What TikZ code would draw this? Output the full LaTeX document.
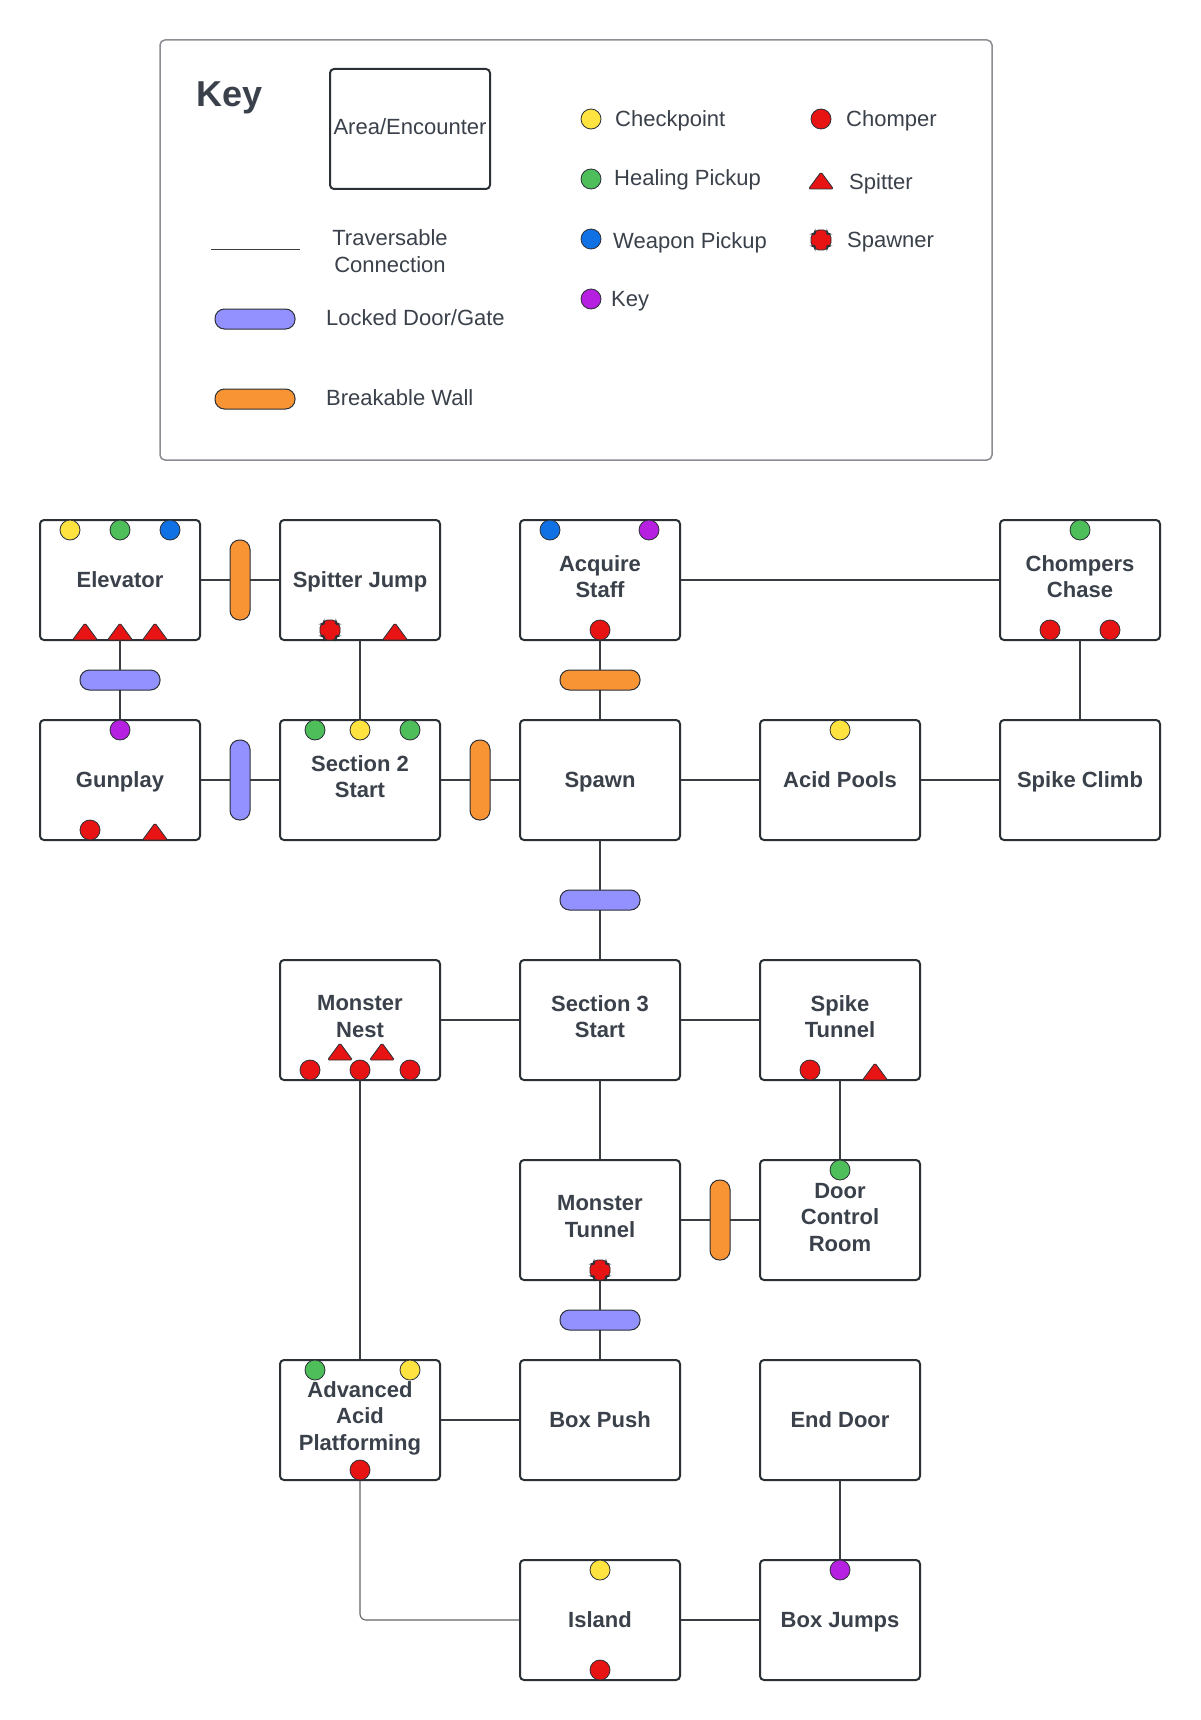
\documentclass[tikz,border=0pt]{standalone}
\usepackage{fontspec}
\setmainfont{Liberation Sans}
\definecolor{txt}{HTML}{3A414A}
\definecolor{boxc}{HTML}{2B2F36}
\definecolor{linec}{HTML}{3A3D42}
\definecolor{keyc}{HTML}{8A8D92}
\definecolor{cyellow}{HTML}{FFE340}
\definecolor{cgreen}{HTML}{4DBE5A}
\definecolor{cblue}{HTML}{1071E5}
\definecolor{cpurple}{HTML}{B620E0}
\definecolor{cred}{HTML}{E81313}
\definecolor{lockc}{HTML}{9391FF}
\definecolor{orangec}{HTML}{F99434}
\begin{document}
\begin{tikzpicture}[x=1pt,y=-1pt,
  area/.style={draw=boxc, line width=2pt, rounded corners=4pt, fill=white,
    minimum width=160pt, minimum height=120pt, inner sep=0pt},
  lbl/.style={align=center, text=txt,
    font=\fontsize{22}{26.4}\selectfont\bfseries, inner sep=0pt},
  lblone/.style={lbl, anchor=base, yshift=-7.5pt},
  conn/.style={draw=linec, line width=1.1pt},
  dot/.style={circle, draw=boxc, line width=0.8pt, minimum size=20pt, inner sep=0pt},
  pillh/.style={draw=boxc, line width=1pt, rounded corners=9.5pt,
    minimum width=80pt, minimum height=20pt, inner sep=0pt},
  pillv/.style={draw=boxc, line width=1pt, rounded corners=9.5pt,
    minimum width=20pt, minimum height=80pt, inner sep=0pt},
  keytext/.style={text=txt, font=\fontsize{22}{26.4}\selectfont, inner sep=0pt},
  spitter/.pic={\filldraw[fill=cred, draw=boxc, line width=0.8pt, rounded corners=1.5pt]
    (-12.5,0) -- (0,-17) -- (12.5,0) -- cycle;},
  spawner/.pic={\filldraw[fill=cred, draw=boxc, line width=0.8pt, rounded corners=3.5pt]
    (-6,-10) -- (6,-10) -- (6,-6) -- (10,-6) -- (10,6) -- (6,6) -- (6,10)
    -- (-6,10) -- (-6,6) -- (-10,6) -- (-10,-6) -- (-6,-6) -- cycle;}
]
\useasboundingbox[fill=white] (0,0) rectangle (1200,1720);

% ---------- Key ----------
\draw[draw=keyc, line width=1.5pt, rounded corners=5pt] (160,40) rectangle (992,460);
\node[anchor=base west, text=txt, font=\fontsize{36}{40}\selectfont\bfseries, inner sep=0pt] (keytitle) at (196,107) {Key};
\node[draw=boxc, line width=2pt, rounded corners=4pt, minimum width=160pt, minimum height=120pt, inner sep=0pt] (keyarea) at (410,129) {};
\node[keytext] (keyarealbl) at (410,127) {Area/Encounter};
\coordinate (tl1) at (211,250);
\coordinate (tl2) at (300,250);
\draw[line width=1pt, draw=linec] (tl1) -- (tl2);
\node[keytext, align=center] (travlbl) at (390,251) {Traversable\\Connection};
\node[pillh, fill=lockc] (keylock) at (255,319) {};
\node[keytext, anchor=west] (locklbl) at (326,318) {Locked Door/Gate};
\node[pillh, fill=orangec] (keywall) at (255,399) {};
\node[keytext, anchor=west] (walllbl) at (326,398) {Breakable Wall};

\node[dot, fill=cyellow] (kc1) at (591,119) {};
\node[keytext, anchor=west] (kt1) at (615,121) {Checkpoint};
\node[dot, fill=cgreen] (kc2) at (591,179) {};
\node[keytext, anchor=west] (kt2) at (614,179.5) {Healing Pickup};
\node[dot, fill=cblue] (kc3) at (591,239) {};
\node[keytext, anchor=west] (kt3) at (613,242.5) {Weapon Pickup};
\node[dot, fill=cpurple] (kc4) at (591,299) {};
\node[keytext, anchor=west] (kt4) at (611,301) {Key};
\node[dot, fill=cred] (kc5) at (821,119) {};
\node[keytext, anchor=west] (kt5) at (846,121) {Chomper};
\pic at (821,189) {spitter};
\node[keytext, anchor=west] (kt6) at (849,184) {Spitter};
\pic at (821,240) {spawner};
\node[keytext, anchor=west] (kt7) at (847,242.5) {Spawner};

% ---------- Areas ----------
\node[area] (elev) at (120,580) {};
\node[area] (spj) at (360,580) {};
\node[area] (acq) at (600,580) {};
\node[area] (chc) at (1080,580) {};
\node[area] (gun) at (120,780) {};
\node[area] (s2) at (360,780) {};
\node[area] (spawn) at (600,780) {};
\node[area] (acid) at (840,780) {};
\node[area] (spc) at (1080,780) {};
\node[area] (nest) at (360,1020) {};
\node[area] (s3) at (600,1020) {};
\node[area] (spt) at (840,1020) {};
\node[area] (mtun) at (600,1220) {};
\node[area] (dcr) at (840,1220) {};
\node[area] (aap) at (360,1420) {};
\node[area] (push) at (600,1420) {};
\node[area] (enddoor) at (840,1420) {};
\node[area] (island) at (600,1620) {};
\node[area] (bjump) at (840,1620) {};

\node[lblone] (elevL) at (elev) {Elevator};
\node[lblone] (spjL) at (spj) {Spitter Jump};
\node[lbl, yshift=3.5pt] (acqL) at (acq) {Acquire\\Staff};
\node[lbl, yshift=3.5pt] (chcL) at (chc) {Chompers\\Chase};
\node[lblone] (gunL) at (gun) {Gunplay};
\node[lbl, yshift=3.5pt] (s2L) at (s2) {Section 2\\Start};
\node[lblone] (spawnL) at (spawn) {Spawn};
\node[lblone] (acidL) at (acid) {Acid Pools};
\node[lblone] (spcL) at (spc) {Spike Climb};
\node[lbl, yshift=3.5pt] (nestL) at (nest) {Monster\\Nest};
\node[lbl, yshift=3.5pt] (s3L) at (s3) {Section 3\\Start};
\node[lbl, yshift=3.5pt] (sptL) at (spt) {Spike\\Tunnel};
\node[lbl, yshift=3.5pt] (mtunL) at (mtun) {Monster\\Tunnel};
\node[lbl, yshift=2.5pt] (dcrL) at (dcr) {Door\\Control\\Room};
\node[lbl, yshift=2pt] (aapL) at (aap) {Advanced\\Acid\\Platforming};
\node[lblone] (pushL) at (push) {Box Push};
\node[lblone] (enddoorL) at (enddoor) {End Door};
\node[lblone] (islandL) at (island) {Island};
\node[lblone] (bjumpL) at (bjump) {Box Jumps};

% ---------- Connectors ----------
\draw[conn] (elev) -- (spj);
\draw[conn] (elev) -- (gun);
\draw[conn] (gun) -- (s2);
\draw[conn] (spj) -- (s2);
\draw[conn] (s2) -- (spawn);
\draw[conn] (acq) -- (spawn);
\draw[conn] (acq) -- (chc);
\draw[conn] (chc) -- (spc);
\draw[conn] (spawn) -- (acid);
\draw[conn] (acid) -- (spc);
\draw[conn] (spawn) -- (s3);
\draw[conn] (nest) -- (s3);
\draw[conn] (s3) -- (spt);
\draw[conn] (s3) -- (mtun);
\draw[conn] (spt) -- (dcr);
\draw[conn] (mtun) -- (dcr);
\draw[conn] (mtun) -- (push);
\draw[conn] (nest) -- (aap);
\draw[conn] (aap) -- (push);
\draw[conn, draw=linec!80, rounded corners=6pt] (aap.south) |- (island.west);
\draw[conn] (island) -- (bjump);
\draw[conn] (enddoor) -- (bjump);

% ---------- Gates / walls ----------
\node[pillv, fill=orangec] (w1) at (240,580) {};
\node[pillh, fill=lockc] (g1) at (120,680) {};
\node[pillv, fill=lockc] (g2) at (240,780) {};
\node[pillv, fill=orangec] (w2) at (480,780) {};
\node[pillh, fill=orangec] (w3) at (600,680) {};
\node[pillh, fill=lockc] (g3) at (600,900) {};
\node[pillv, fill=orangec] (w4) at (720,1220) {};
\node[pillh, fill=lockc] (g4) at (600,1320) {};

% ---------- Markers ----------
% Elevator
\node[dot, fill=cyellow] (el1) at (70,530) {};
\node[dot, fill=cgreen] (el2) at (120,530) {};
\node[dot, fill=cblue] (el3) at (170,530) {};
\pic at (85,640) {spitter};
\pic at (120,640) {spitter};
\pic at (155,640) {spitter};
% Spitter Jump
\pic at (330,630) {spawner};
\pic at (395,640) {spitter};
% Acquire Staff
\node[dot, fill=cblue] (aq1) at (550,530) {};
\node[dot, fill=cpurple] (aq2) at (649,530) {};
\node[dot, fill=cred] (aq3) at (600,630) {};
% Chompers Chase
\node[dot, fill=cgreen] (cc1) at (1080,530) {};
\node[dot, fill=cred] (cc2) at (1050,630) {};
\node[dot, fill=cred] (cc3) at (1110,630) {};
% Gunplay
\node[dot, fill=cpurple] (gp1) at (120,730) {};
\node[dot, fill=cred] (gp2) at (90,830) {};
\pic at (155,840) {spitter};
% Section 2 Start
\node[dot, fill=cgreen] (sa1) at (315,730) {};
\node[dot, fill=cyellow] (sa2) at (360,730) {};
\node[dot, fill=cgreen] (sa3) at (410,730) {};
% Acid Pools
\node[dot, fill=cyellow] (ap1) at (840,730) {};
% Monster Nest
\pic at (340,1060) {spitter};
\pic at (382,1060) {spitter};
\node[dot, fill=cred] (mn1) at (310,1070) {};
\node[dot, fill=cred] (mn2) at (360,1070) {};
\node[dot, fill=cred] (mn3) at (410,1070) {};
% Spike Tunnel
\node[dot, fill=cred] (st1) at (810,1070) {};
\pic at (875,1080) {spitter};
% Door Control Room
\node[dot, fill=cgreen] (dc1) at (840,1170) {};
% Monster Tunnel
\pic at (600,1270) {spawner};
% Advanced Acid Platforming
\node[dot, fill=cgreen] (aa1) at (315,1370) {};
\node[dot, fill=cyellow] (aa2) at (410,1370) {};
\node[dot, fill=cred] (aa3) at (360,1470) {};
% Island
\node[dot, fill=cyellow] (is1) at (600,1570) {};
\node[dot, fill=cred] (is2) at (600,1670) {};
% Box Jumps
\node[dot, fill=cpurple] (bj1) at (840,1570) {};
\end{tikzpicture}
\end{document}
